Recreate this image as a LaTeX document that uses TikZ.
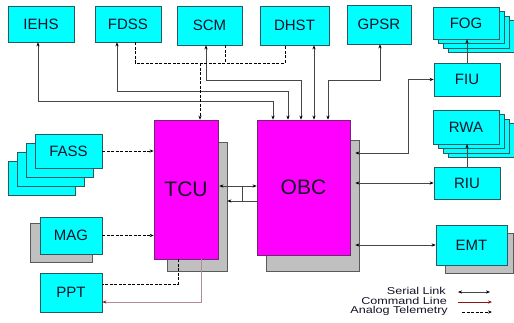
\documentclass[tikz,border=0pt]{standalone}
\usepackage{fontspec}
\setmainfont{Liberation Sans}
\usetikzlibrary{arrows.meta,shadows,calc}
\definecolor{cyanfill}{RGB}{0,255,255}
\definecolor{cyanline}{RGB}{40,90,100}
\definecolor{magfill}{RGB}{255,0,255}
\definecolor{magline}{RGB}{110,40,110}
\definecolor{shadowfill}{RGB}{192,192,192}
\definecolor{shadowline}{RGB}{90,90,90}
\definecolor{serline}{RGB}{70,70,70}
\definecolor{cmdline}{RGB}{176,140,152}
\definecolor{cmdtip}{RGB}{140,20,20}
\definecolor{txt}{RGB}{20,20,40}
\tikzset{
  cbox/.style={draw=cyanline, fill=cyanfill, line width=0.7pt, inner sep=0pt,
    font=\fontsize{15}{15}\selectfont, text=txt},
  mbox/.style={draw=magline, fill=magfill, line width=0.7pt, inner sep=0pt,
    font=\fontsize{21}{21}\selectfont, text=txt},
  shbox/.style={draw=shadowline, fill=shadowfill, line width=0.6pt},
  tip/.style={-{Stealth[length=4pt,width=3.2pt]}},
  ser/.style={draw=serline, line width=0.6pt, {Stealth[length=4pt,width=3.2pt,black]}-{Stealth[length=4pt,width=3.2pt,black]}},
  sertip/.style={draw=serline, line width=0.6pt, -{Stealth[length=4pt,width=3.2pt,black]}},
  tel/.style={draw=black, line width=1pt, dash pattern=on 3pt off 1.5pt},
  cmd/.style={draw=cmdline, line width=0.8pt, -{Stealth[length=4pt,width=3.2pt,cmdtip]}},
  legtext/.style={inner sep=0pt, anchor=east, text=txt}
}
\newcommand{\legfont}[1]{\scalebox{1.26}[1]{\fontsize{10}{10}\selectfont #1}}
\begin{document}
\begin{tikzpicture}[x=1pt,y=-1pt]
\useasboundingbox (0,0) rectangle (514,322);
% gray shadows
\draw[shbox] (266,140) rectangle (359,271);
\draw[shbox] (167,142) rectangle (227,271);
\draw[shbox] (30,223) rectangle (92,262);
\draw[shbox] (445,233) rectangle (513,273);
% stacked boxes (back layers)
\foreach \k in {3,2,1} {
  \draw[cbox] ($(35,134)+(-9*\k,9*\k)$) rectangle ++(67,34);
  \draw[cbox] ($(433,7)+(5*\k,4.5*\k)$) rectangle ++(66,32);
  \draw[cbox] ($(433,110)+(5*\k,4.5*\k)$) rectangle ++(66,34);
}
% nodes
\node[cbox, minimum width=66pt, minimum height=36pt] (iehs) at (41,24) {IEHS};
\node[cbox, minimum width=66pt, minimum height=36pt] (fdss) at (128,24) {FDSS};
\node[cbox, minimum width=65pt, minimum height=39pt] (scm) at (209.5,25.5) {SCM};
\node[cbox, minimum width=69pt, minimum height=39pt] (dhst) at (294.5,25.5) {DHST};
\node[cbox, minimum width=64pt, minimum height=39pt] (gpsr) at (379,24.5) {GPSR};
\node[cbox, minimum width=66pt, minimum height=32pt] (fog) at (466,23) {FOG};
\node[cbox, minimum width=66pt, minimum height=33pt] (fiu) at (467,79.5) {FIU};
\node[cbox, minimum width=66pt, minimum height=34pt] (rwa) at (466,127) {RWA};
\node[cbox, minimum width=66pt, minimum height=32pt] (riu) at (467,183) {RIU};
\node[cbox, minimum width=71pt, minimum height=40pt] (emt) at (471.5,245) {EMT};
\node[cbox, minimum width=67pt, minimum height=34pt] (fass) at (68.5,151) {FASS};
\node[cbox, minimum width=62pt, minimum height=37pt] (mag) at (71,235.5) {MAG};
\node[cbox, minimum width=62pt, minimum height=39pt] (ppt) at (71,292.5) {PPT};
\node[mbox, minimum width=93pt, minimum height=135pt] (obc) at (303.5,187.5) {OBC};
\node[mbox, minimum width=64pt, minimum height=139pt] (tcu) at (186,189.5) {TCU};
% serial links to OBC top
\draw[ser] ([xshift=-3pt]iehs.south) -- ++(0,59) -| ([xshift=-30.5pt]obc.north);
\draw[ser] ([xshift=-11pt]fdss.south) -- ++(0,49) -| ([xshift=-15.5pt]obc.north);
\draw[ser] ([xshift=-3.5pt]scm.south) -- ++(0,35) -| ([xshift=-2.5pt]obc.north);
\draw[ser] ([xshift=19.5pt]dhst.south) -- ([xshift=10.5pt]obc.north);
\draw[ser] ([xshift=1pt]gpsr.south) -- ++(0,36) -| ([xshift=24.5pt]obc.north);
% telemetry bus to TCU
\coordinate (busL) at (135,63);
\coordinate (busS) at (225,63);
\coordinate (busT) at (200,63);
\coordinate (busR) at (285,63);
\draw[tel] ([xshift=7pt]fdss.south) -- (busL) -- (busR) -- ([xshift=-9.5pt]dhst.south);
\draw[tel] ([xshift=15.5pt]scm.south) -- (busS);
\draw[tel, tip] (busT) -- ([xshift=14pt]tcu.north);
\draw[tel, tip] (fass.east) -- (fass.east -| tcu.west);
\draw[tel, tip] (mag.east) -- (mag.east -| tcu.west);
\draw[tel] ([xshift=-8pt]tcu.south) |- ([yshift=8.5pt]ppt.east);
\draw[cmd] ([xshift=15pt]tcu.south) |- ([yshift=-9.5pt]ppt.east);
% TCU - OBC
\coordinate (tcuA) at ([xshift=1pt,yshift=3.5pt]tcu.east);
\coordinate (tcuB) at ([xshift=9pt,yshift=-11.5pt]tcu.east);
\draw[ser] (tcuA) -- (tcuA -| obc.west);
\draw[sertip] (tcuB -| obc.west) -- (tcuB);
\coordinate (vt) at (242,186);
\draw[draw=serline, line width=0.6pt] (vt) -- (vt |- tcuB);
% OBC right side
\coordinate (ob) at ([xshift=5pt]obc.east);
\draw[ser] ([yshift=34.5pt]ob) -- ++(53,0) |- (fiu.west);
\draw[ser] (ob |- riu.west) -- (riu.west);
\draw[ser] (ob |- emt.west) -- (emt.west);
\draw[sertip] (fiu.north) -- (fiu.north |- fog.south);
\draw[sertip] (riu.north) -- (riu.north |- rwa.south);
% legend
\node[legtext] (l1) at (446,291) {\legfont{Serial Link}};
\node[legtext] (l2) at (447,301) {\legfont{Command Line}};
\node[legtext] (l3) at (448,311) {\legfont{Analog Telemetry}};
\coordinate (s1) at (458,292); \coordinate (e1) at (490,292);
\coordinate (s2) at (458,302); \coordinate (e2) at (492,302);
\coordinate (s3) at (462,312); \coordinate (e3) at (492,312);
\draw[ser] (s1) -- (e1);
\draw[draw=cmdtip, line width=0.8pt, -{Stealth[length=4pt,width=3.2pt]}] (s2) -- (e2);
\draw[tel, tip] (s3) -- (e3);
\end{tikzpicture}
\end{document}
